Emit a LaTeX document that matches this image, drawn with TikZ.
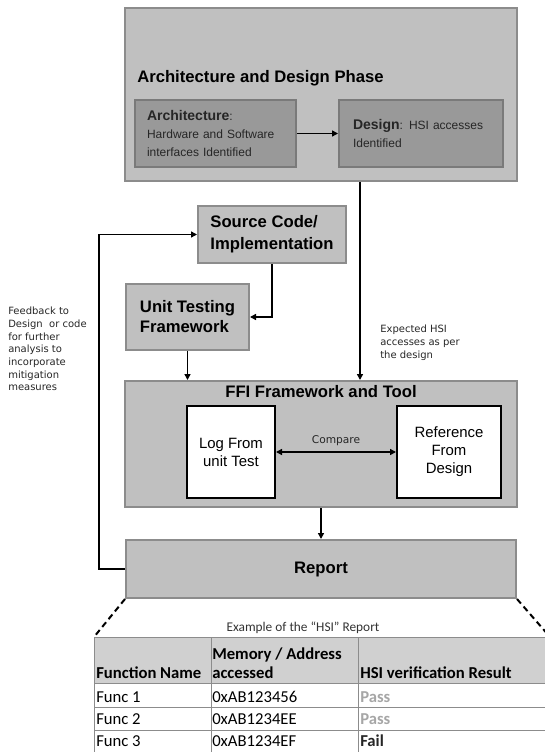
\documentclass[tikz,border=0pt]{standalone}
\usepackage{fontspec}
\setmainfont{Liberation Sans}
\newfontfamily\verdfont{DejaVu Sans}
\newfontfamily\califont{Carlito}
\usepackage{xcolor}
\usepackage{tikz}
\usetikzlibrary{arrows.meta,positioning}
\newlength\px
\setlength\px{0.75pt}
\definecolor{phasefill}{HTML}{C0C0C0}
\definecolor{phaseline}{HTML}{8C8C8C}
\definecolor{archfill}{HTML}{999999}
\definecolor{archline}{HTML}{7A7A7A}
\definecolor{headfill}{HTML}{D0D0D0}
\definecolor{gridgray}{HTML}{8C8C8C}
\definecolor{passgray}{HTML}{A6A6A6}
\tikzset{
  graybox/.style={rectangle, draw=phaseline, fill=phasefill, line width=2\px, inner sep=0pt},
  archbox/.style={graybox, draw=archline, fill=archfill, align=left, anchor=west, inner xsep=12\px,
    font=\fontsize{9pt}{13.5pt}\selectfont, text=black!85},
  stagebox/.style={graybox, align=left, anchor=west, inner xsep=11\px, font=\bfseries\fontsize{12.5pt}{16.5pt}\selectfont},
  whitebox/.style={rectangle, draw=black, fill=white, line width=2\px, align=center, inner sep=0pt,
    font=\fontsize{11.2pt}{13.5pt}\selectfont},
  flowarrow/.style={-{Triangle[length=4.5pt,width=4.5pt]}, line width=1.5\px, black},
  notetext/.style={font=\verdfont\fontsize{7.5pt}{9.5pt}\selectfont, align=left, inner sep=0pt, text=black!85},
  zoomline/.style={line width=2\px, dash pattern=on 6\px off 4\px},
  gridline/.style={draw=gridgray, line width=1\px},
  celltext/.style={font=\califont\fontsize{12.5pt}{14.25pt}\selectfont, anchor=west, inner sep=0pt, align=left},
  cellhead/.style={celltext, font=\califont\bfseries\fontsize{12.5pt}{14.25pt}\selectfont}
}

\begin{document}
\begin{tikzpicture}[x=0.75pt, y=-0.75pt]
\useasboundingbox (0,0) rectangle (545,752);
\clip (0,0) rectangle (545,752);

% architecture and design phase
\node[graybox, minimum width=392\px, minimum height=173\px] (phase) at (321,94.5) {};
\node[anchor=west, inner sep=0pt, font=\bfseries\fontsize{12.5pt}{14pt}\selectfont] (phasetitle) at (137,78) {Architecture and Design Phase};
\node[archbox, minimum height=67\px, text width=137\px] (arch) at (134,133.5)
  {{\bfseries\fontsize{10.5pt}{13.5pt}\selectfont Architecture}:\\Hardware and Software\\interfaces Identified};
\node[archbox, minimum height=67\px, inner xsep=14\px, text width=136\px] (design) at (338,133.5)
  {{\bfseries\fontsize{10.5pt}{13.5pt}\selectfont Design}: HSI accesses\\Identified};
\draw[flowarrow] (arch) -- (design);

% implementation and unit test
\node[stagebox, minimum width=148\px, minimum height=57\px] (source) at (197,234.5) {Source Code/\\Implementation};
\node[stagebox, minimum width=123\px, minimum height=66\px, inner xsep=12\px, font=\bfseries\fontsize{12.5pt}{15pt}\selectfont] (unit) at (125,317) {Unit Testing\\Framework};
\draw[flowarrow] (source.south) |- (unit.east);

% FFI framework
\node[graybox, minimum width=392\px, minimum height=126\px] (ffi) at (321,444) {};
\node[inner sep=0pt, font=\bfseries\fontsize{12.5pt}{14pt}\selectfont] (ffititle) at (321,392) {FFI Framework and Tool};
\node[whitebox, minimum width=88\px, minimum height=92\px] (log) at (231,452) {Log From\\unit Test};
\node[whitebox, minimum width=104\px, minimum height=92\px] (ref) at (449,452) {Reference\\From\\Design};
\draw[{Triangle[length=4.5pt,width=4.5pt]}-{Triangle[length=4.5pt,width=4.5pt]}, line width=1.5\px] (log) --
  node[notetext, font=\verdfont\fontsize{8pt}{10pt}\selectfont, above=6\px] (cmp) {Compare} (ref);

\coordinate (expx) at (360,0);
\draw[flowarrow] (phase.south -| expx) -- (ffi.north -| expx);
\node[notetext, anchor=north west] (expnote) at (380,325) {Expected HSI\\accesses as per\\the design};
\draw[flowarrow] (unit.south) -- (unit.south |- ffi.north);

% report and feedback
\node[graybox, minimum width=390\px, minimum height=58\px, font=\bfseries\fontsize{12.5pt}{14pt}\selectfont] (report) at (321,569) {Report};
\draw[flowarrow] (ffi.south) -- (report.north);
\coordinate (fbx) at (99,0);
\draw[flowarrow] (report.west) -- (report.west -| fbx) |- (source.west);
\node[notetext, anchor=north west] (fbnote) at (8,307) {Feedback to\\Design\ \ or code\\for further\\analysis to\\incorporate\\mitigation\\measures};

% example report table
\coordinate (tabnw) at (94,637);
\coordinate (tabne) at (550,637);
\draw[zoomline] (report.south west) -- (tabnw);
\draw[zoomline] (report.south east) -- (tabne);
\node[inner sep=0pt, font=\califont\fontsize{10pt}{12pt}\selectfont, text=black!80] (caption) at (303,628) {Example of the “HSI” Report};
\fill[headfill] (94,637) rectangle (560,683);
\foreach \y in {637,683,707,730,752}
  \draw[gridline] (94,\y) -- (560,\y);
\foreach \x in {94,211,358}
  \draw[gridline] (\x,637) -- (\x,760);
\node[cellhead] (hfunc) at (96,673) {Function Name};
\node[cellhead, font=\califont\bfseries\fontsize{12.5pt}{14.5pt}\selectfont] (hmem) at (212,663.5) {Memory / Address\\accessed};
\node[cellhead] (hres) at (360,673) {HSI verification Result};
\foreach \r/\y/\addr/\res/\col in {1/697/0xAB123456/Pass/passgray, 2/719/0xAB1234EE/Pass/passgray, 3/741/0xAB1234EF/Fail/black!85} {
  \node[celltext] (fn\r) at (96,\y) {Func \r};
  \node[celltext] (addr\r) at (212,\y) {\addr};
  \node[cellhead, text=\col] (res\r) at (360,\y) {\res};
}
\end{tikzpicture}
\end{document}
